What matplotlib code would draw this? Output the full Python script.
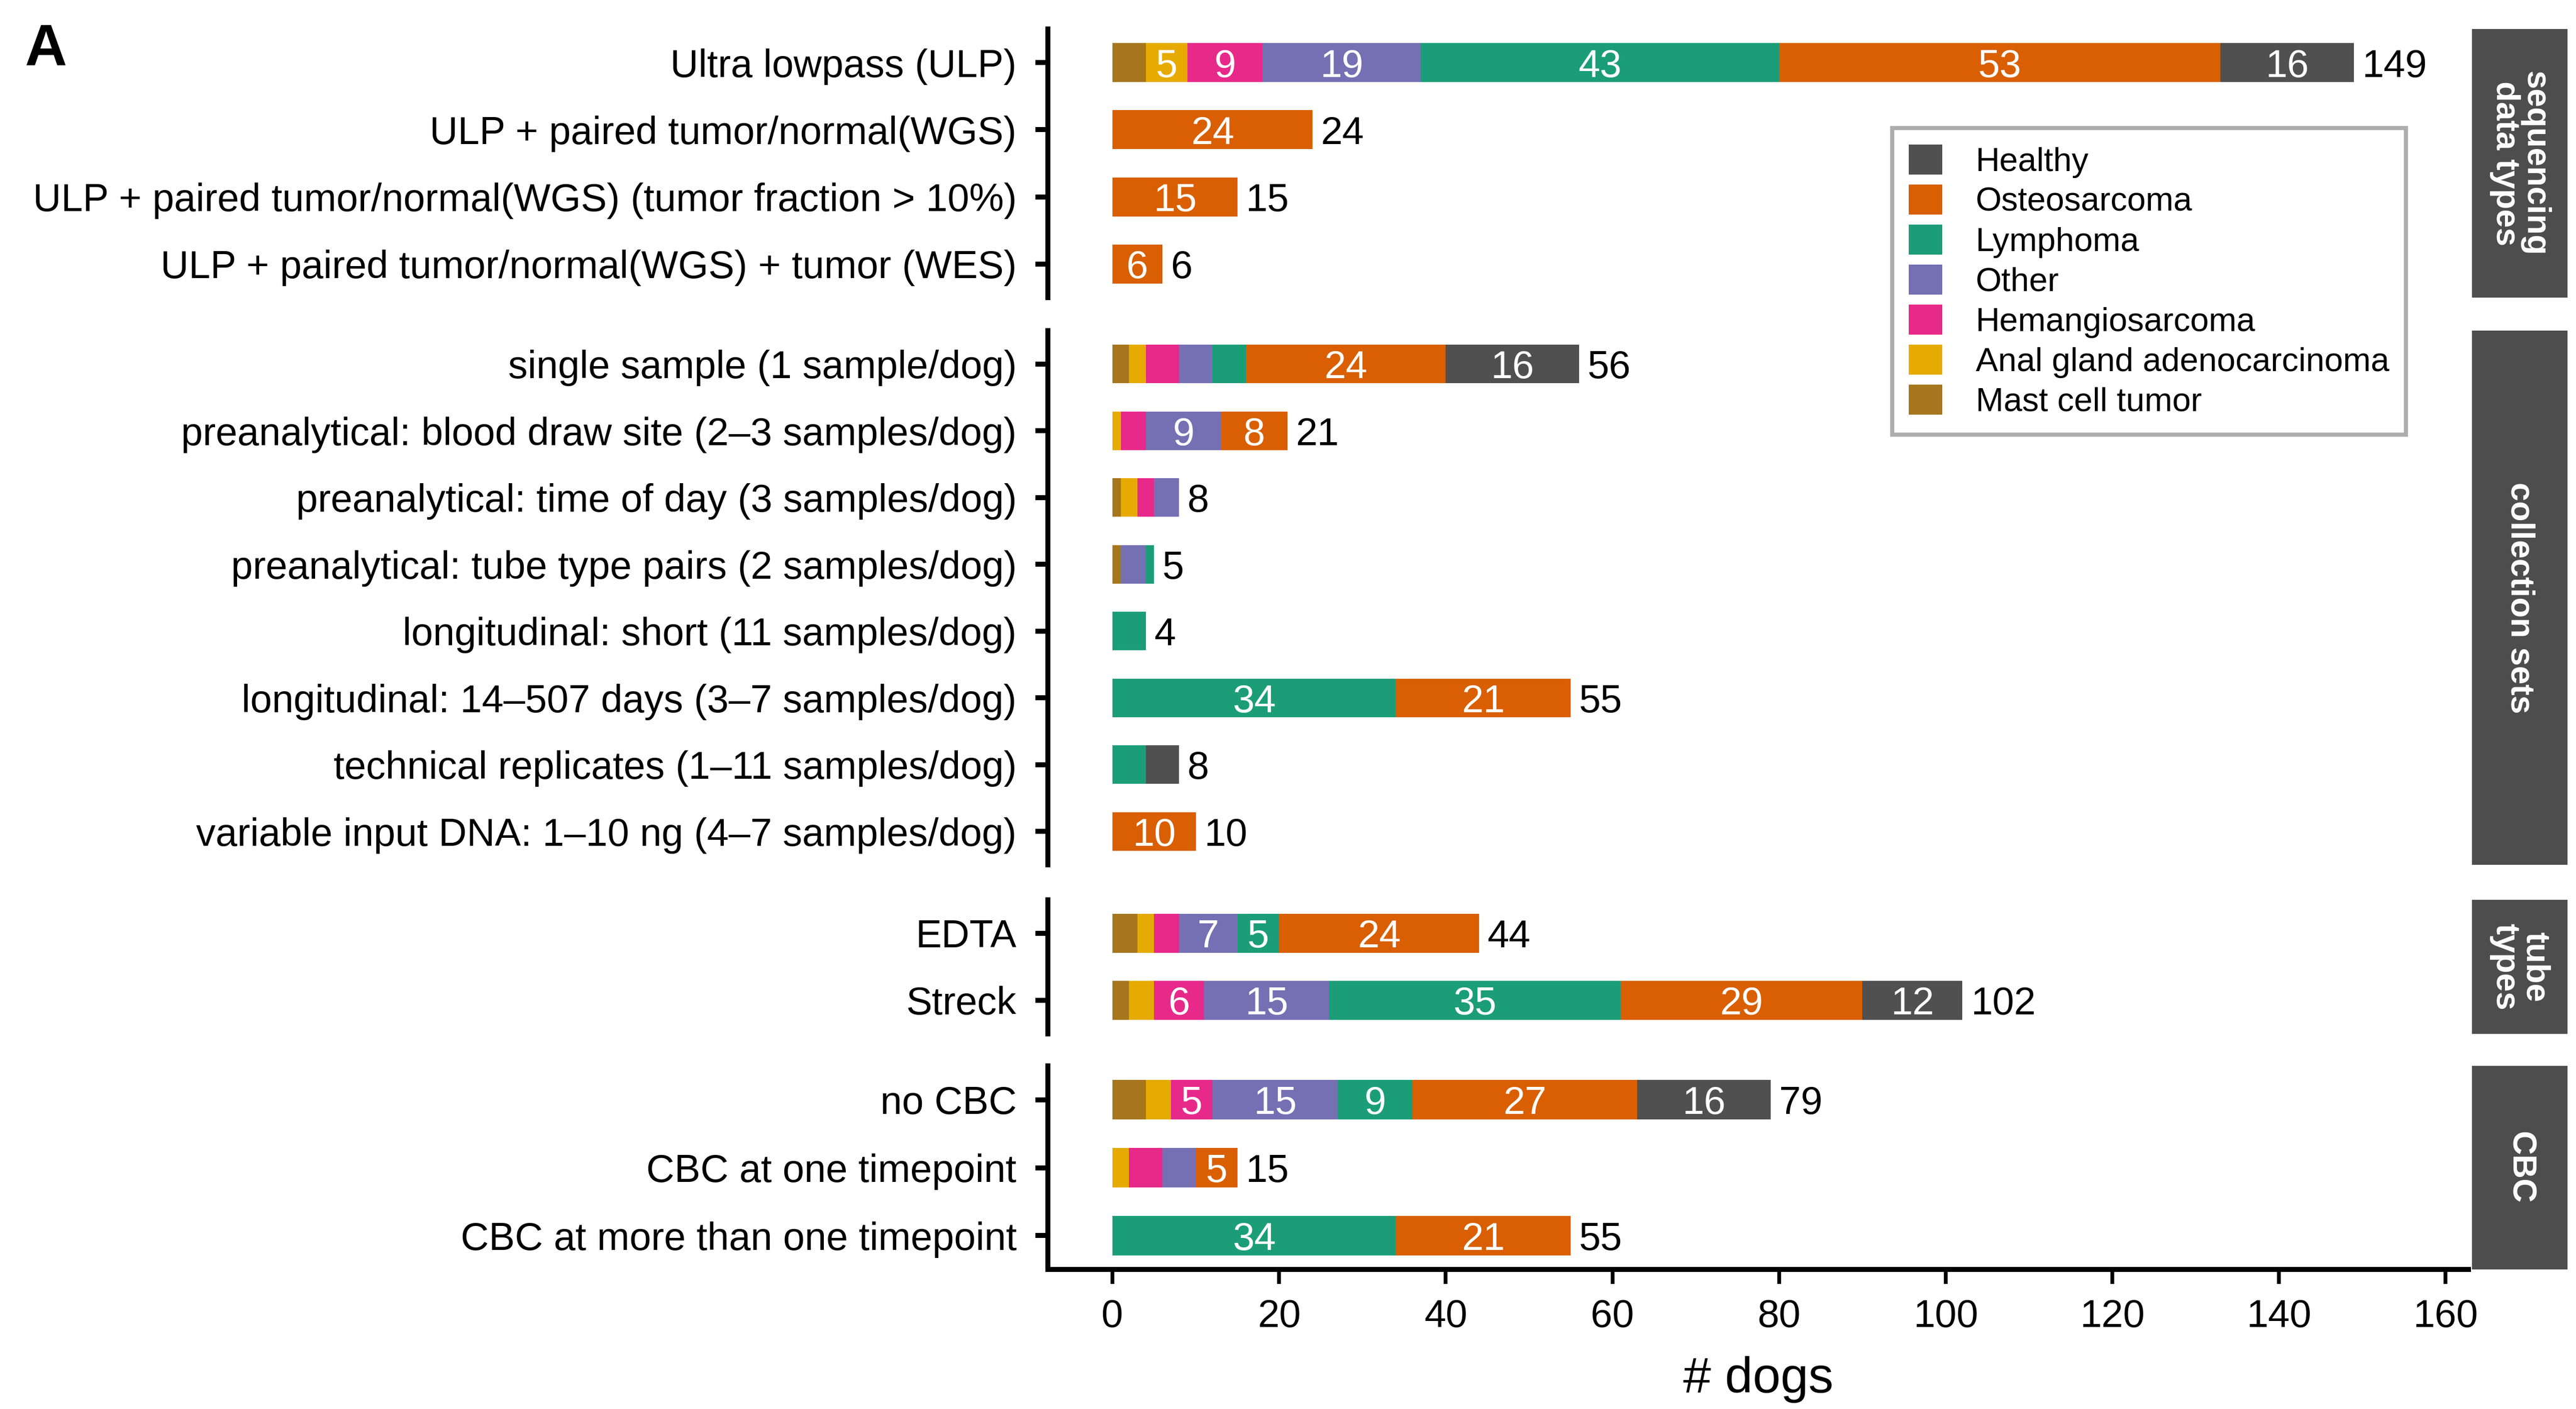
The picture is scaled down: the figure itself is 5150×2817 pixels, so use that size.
import numpy as np
import matplotlib
matplotlib.use("Agg")
import matplotlib.pyplot as plt
from matplotlib.patches import Patch

plt.rcParams["font.family"] = ["Liberation Sans", "DejaVu Sans"]

# ── Data ──────────────────────────────────────────────────────────────────────
categories = [
    "Ultra lowpass (ULP)",
    "ULP + paired tumor/normal(WGS)",
    "ULP + paired tumor/normal(WGS) (tumor fraction > 10%)",
    "ULP + paired tumor/normal(WGS) + tumor (WES)",
    "single sample (1 sample/dog)",
    "preanalytical: blood draw site (2\u20133 samples/dog)",
    "preanalytical: time of day (3 samples/dog)",
    "preanalytical: tube type pairs (2 samples/dog)",
    "longitudinal: short (11 samples/dog)",
    "longitudinal: 14\u2013507 days (3\u20137 samples/dog)",
    "technical replicates (1\u201311 samples/dog)",
    "variable input DNA: 1\u201310 ng (4\u20137 samples/dog)",
    "EDTA",
    "Streck",
    "no CBC",
    "CBC at one timepoint",
    "CBC at more than one timepoint",
]
groups = ["sequencing\ndata types", "collection sets", "tube\ntypes", "CBC"]
group_sizes = [4, 8, 2, 3]

# stacked left -> right
mast_cell = [4, 0, 0, 0, 2, 0, 1, 1, 0, 0, 0, 0, 3, 2, 4, 0, 0]
anal_gland = [5, 0, 0, 0, 2, 1, 2, 0, 0, 0, 0, 0, 2, 3, 3, 2, 0]
hemangiosarcoma = [9, 0, 0, 0, 4, 3, 2, 0, 0, 0, 0, 0, 3, 6, 5, 4, 0]
other = [19, 0, 0, 0, 4, 9, 3, 3, 0, 0, 0, 0, 7, 15, 15, 4, 0]
lymphoma = [43, 0, 0, 0, 4, 0, 0, 1, 4, 34, 4, 0, 5, 35, 9, 0, 34]
osteosarcoma = [53, 24, 15, 6, 24, 8, 0, 0, 0, 21, 0, 10, 24, 29, 27, 5, 21]
healthy = [16, 0, 0, 0, 16, 0, 0, 0, 0, 0, 4, 0, 0, 12, 16, 0, 0]

series_names = ["Mast cell tumor", "Anal gland adenocarcinoma", "Hemangiosarcoma",
                "Other", "Lymphoma", "Osteosarcoma", "Healthy"]
series_values = [mast_cell, anal_gland, hemangiosarcoma, other, lymphoma,
                 osteosarcoma, healthy]
series_colors = ["#A6761D", "#E6AB02", "#E7298A", "#7570B3", "#1B9E77",
                 "#D95F02", "#505050"]

# ── Layout (pixel coords of the 5150x2817 canvas) ────────────────────────────
W, H = 5150, 2817
fig = plt.figure(figsize=(W / 300, H / 300), dpi=300)

panel_y = [(58, 595), (661, 1729), (1799, 2067), (2131, 2538)]
px_left, px_right = 2095, 4935
strip_left, strip_right = 4942, 5133
xmin, xmax = -7.75, 162.75
fs = 18.7

vals = np.array(series_values, dtype=float)
totals = vals.sum(axis=0)

start = 0
for gi, (gname, n) in enumerate(zip(groups, group_sizes)):
    top, bot = panel_y[gi]
    ax = fig.add_axes([px_left / W, 1 - bot / H, (px_right - px_left) / W, (bot - top) / H])
    idx = list(range(start, start + n))
    y = np.arange(n)
    left = np.zeros(n)
    for name, v, c in zip(series_names, vals[:, idx], series_colors):
        ax.barh(y, v, left=left, height=0.58, color=c, linewidth=0)
        for yi, (l, w) in enumerate(zip(left, v)):
            if w >= 5:
                ax.text(l + w / 2, yi, f"{int(w)}", ha="center", va="center_baseline",
                        color="white", fontsize=fs)
        left += v
    for yi, t in enumerate(totals[idx]):
        ax.text(t + 1.0, yi, f"{int(t)}", ha="left", va="center_baseline", fontsize=fs)

    ax.set_xlim(xmin, xmax)
    ax.set_ylim(n - 0.5, -0.5)
    ax.set_yticks(y)
    ax.set_yticklabels([categories[i] for i in idx], fontsize=fs)
    for s in ["top", "right"]:
        ax.spines[s].set_visible(False)
    ax.spines["left"].set_linewidth(2.4)
    ax.tick_params(axis="y", length=6, width=2.4, pad=9)
    if gi < len(groups) - 1:
        ax.spines["bottom"].set_visible(False)
        ax.set_xticks([])
    else:
        ax.spines["bottom"].set_linewidth(2.4)
        ax.set_xticks(np.arange(0, 161, 20))
        ax.tick_params(axis="x", length=7, width=1.8, pad=7, labelsize=fs)
        ax.set_xlabel("# dogs", fontsize=24, labelpad=10)

    # facet strip on the right
    sax = fig.add_axes([strip_left / W, 1 - bot / H, (strip_right - strip_left) / W, (bot - top) / H])
    sax.set_facecolor("#4D4D4D")
    sax.set_xticks([])
    sax.set_yticks([])
    for s in sax.spines.values():
        s.set_visible(False)
    sax.text(0.5, 0.5, gname, rotation=270, ha="center", va="center",
             color="white", fontsize=16, fontweight="bold", linespacing=0.95,
             transform=sax.transAxes)
    start += n

# ── Legend ────────────────────────────────────────────────────────────────────
handles = [Patch(facecolor=c, edgecolor="none", label=nm)
           for nm, c in zip(series_names, series_colors)][::-1]
leg = fig.legend(handles=handles, loc="upper left",
                 bbox_to_anchor=(3783 / W, 1 - 256 / H), fontsize=16,
                 frameon=True, fancybox=False, edgecolor="#999999",
                 handlelength=1.0, handleheight=1.0, handletextpad=1.0,
                 labelspacing=0.2, borderpad=0.5, borderaxespad=0)
leg.get_frame().set_linewidth(2.0)

fig.text(15 / 1568, 1 - 14 / 858, "A", fontsize=28, fontweight="bold", va="top", ha="left")

fig.savefig("out.png", dpi=300)
